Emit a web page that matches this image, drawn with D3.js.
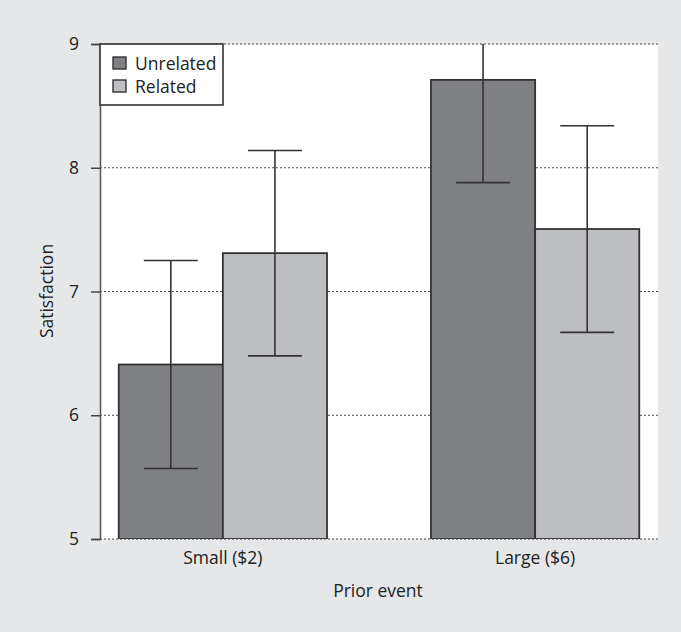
<!DOCTYPE html>
<html>
<head>
<meta charset="utf-8">
<script src="https://cdn.jsdelivr.net/npm/d3@7"></script>
<style>
  body { margin: 0; background: #e6e7e9; }
  svg { display: block; font-family: "Open Sans", sans-serif; }
</style>
</head>
<body>
<svg width="681" height="632"></svg>
<script>
const groups = ["Small ($2)", "Large ($6)"];
const conditions = ["Unrelated", "Related"];
const means = [[6.41, 7.31], [8.71, 7.505]];
const errors = [[0.84, 0.83], [0.83, 0.835]];
const yTicks = [5, 6, 7, 8, 9];
const colors = ["#7f8083", "#bdbec1"];

const svg = d3.select("svg");
const plotLeft = 100, plotRight = 658, plotTop = 44, plotBottom = 539;
const fontSize = 17.5;

// white plot area
svg.append("rect")
  .attr("x", plotLeft).attr("y", plotTop)
  .attr("width", plotRight - plotLeft).attr("height", plotBottom - plotTop)
  .attr("fill", "#fff");

svg.append("clipPath").attr("id", "clip")
  .append("rect")
  .attr("x", plotLeft).attr("y", plotTop)
  .attr("width", plotRight - plotLeft).attr("height", plotBottom - plotTop);

const y = d3.scaleLinear().domain([5, 9]).range([plotBottom, plotTop]);
const x0 = d3.scaleBand().domain(groups).range([plotLeft, plotRight])
  .paddingInner(0.333).paddingOuter(0.06);
const x1 = d3.scaleBand().domain(conditions).range([0, x0.bandwidth()]);

// dotted gridlines
svg.append("g")
  .selectAll("line")
  .data(yTicks)
  .join("line")
  .attr("x1", plotLeft).attr("x2", plotRight)
  .attr("y1", d => y(d)).attr("y2", d => y(d))
  .attr("stroke", "#444")
  .attr("stroke-width", 1.2)
  .attr("stroke-dasharray", "2,2");

// y axis
const yAxis = svg.append("g")
  .attr("transform", `translate(${plotLeft},0)`)
  .call(d3.axisLeft(y).tickValues(yTicks).tickSize(9).tickPadding(12).tickFormat(d3.format("d")));
yAxis.select(".domain").attr("stroke", "#555").attr("stroke-width", 1.5);
yAxis.selectAll(".tick line").attr("stroke", "#444").attr("stroke-width", 1.5);
yAxis.selectAll("text").attr("font-size", fontSize).attr("fill", "#222").attr("font-family", "Open Sans");

// bars
const bars = svg.append("g").attr("clip-path", "url(#clip)");
groups.forEach((g, gi) => {
  const gx = x0(g);
  bars.selectAll(null)
    .data(conditions)
    .enter().append("rect")
    .attr("x", c => gx + x1(c))
    .attr("y", (c, ci) => y(means[gi][ci]))
    .attr("width", x1.bandwidth())
    .attr("height", (c, ci) => y(5) - y(means[gi][ci]))
    .attr("fill", (c, ci) => colors[ci])
    .attr("stroke", "#333")
    .attr("stroke-width", 1.8);

  // error bars
  conditions.forEach((c, ci) => {
    const cx = gx + x1(c) + x1.bandwidth() / 2;
    const hi = means[gi][ci] + errors[gi][ci];
    const lo = means[gi][ci] - errors[gi][ci];
    const eb = bars.append("g").attr("stroke", "#333").attr("stroke-width", 1.6);
    eb.append("line").attr("x1", cx).attr("x2", cx).attr("y1", y(hi)).attr("y2", y(lo));
    eb.append("line").attr("x1", cx - 27).attr("x2", cx + 27).attr("y1", y(lo)).attr("y2", y(lo));
    if (hi <= 9) {
      eb.append("line").attr("x1", cx - 27).attr("x2", cx + 27).attr("y1", y(hi)).attr("y2", y(hi));
    }
  });
});

// x labels
svg.append("g")
  .selectAll("text")
  .data(groups)
  .join("text")
  .attr("x", d => x0(d) + x0.bandwidth() / 2)
  .attr("y", 564)
  .attr("text-anchor", "middle")
  .attr("font-size", fontSize)
  .attr("fill", "#222")
  .text(d => d);

svg.append("text")
  .attr("x", 378).attr("y", 597)
  .attr("text-anchor", "middle")
  .attr("font-size", fontSize)
  .attr("fill", "#222")
  .text("Prior event");

svg.append("text")
  .attr("transform", "translate(53,291) rotate(-90)")
  .attr("text-anchor", "middle")
  .attr("font-size", fontSize)
  .attr("fill", "#222")
  .text("Satisfaction");

// legend
const legend = svg.append("g");
legend.append("rect")
  .attr("x", plotLeft).attr("y", plotTop)
  .attr("width", 123).attr("height", 61)
  .attr("fill", "#fff")
  .attr("stroke", "#333")
  .attr("stroke-width", 1.6);
legend.selectAll("g")
  .data(conditions)
  .join("g")
  .attr("transform", (d, i) => `translate(113,${57 + i * 23})`)
  .each(function (d, i) {
    const g = d3.select(this);
    g.append("rect").attr("width", 13).attr("height", 12)
      .attr("fill", colors[i]).attr("stroke", "#333").attr("stroke-width", 1.4);
    g.append("text").attr("x", 22).attr("y", 12.5)
      .attr("font-size", fontSize).attr("fill", "#222").text(d);
  });
</script>
</body>
</html>
